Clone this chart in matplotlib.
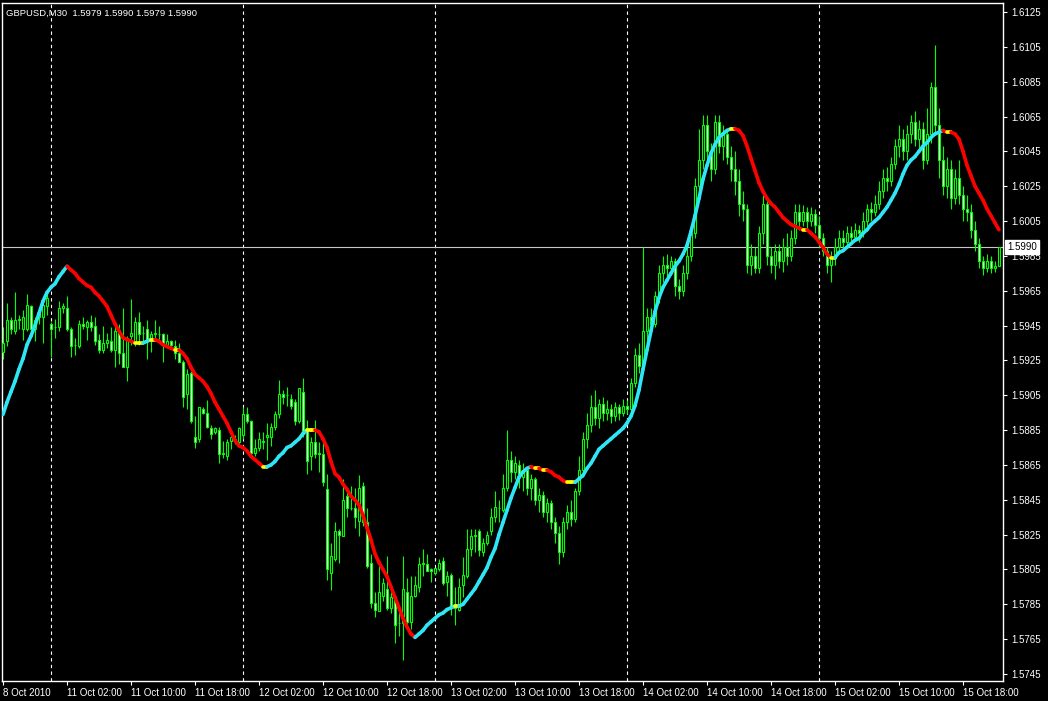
import numpy as np
import matplotlib
matplotlib.use('Agg')
import matplotlib.pyplot as plt
from matplotlib.collections import LineCollection
import matplotlib.transforms as mtransforms

plt.rcParams['font.family'] = ['Liberation Sans', 'DejaVu Sans']

symbol_text = 'GBPUSD,M30  1.5979 1.5990 1.5979 1.5990'
last_price = 1.5990

time_labels = ['8 Oct 2010', '11 Oct 02:00', '11 Oct 10:00', '11 Oct 18:00', '12 Oct 02:00',
               '12 Oct 10:00', '12 Oct 18:00', '13 Oct 02:00', '13 Oct 10:00', '13 Oct 18:00',
               '14 Oct 02:00', '14 Oct 10:00', '14 Oct 18:00', '15 Oct 02:00', '15 Oct 10:00',
               '15 Oct 18:00']
label_bars = [0, 16, 32, 48, 64, 80, 96, 112, 128, 144, 160, 176, 192, 208, 224, 240]
day_start_bars = [12, 60, 108, 156, 204]
price_ticks = [1.5745, 1.5765, 1.5785, 1.5805, 1.5825, 1.5845, 1.5865, 1.5885, 1.5905, 1.5925,
               1.5945, 1.5965, 1.5985, 1.6005, 1.6025, 1.6045, 1.6065, 1.6085, 1.6105, 1.6125]

opens = [
 1.5930,1.5936,1.5948,1.5942,1.5948,1.5943,1.5943,1.5956,1.5943,1.5950,1.5950,1.5956,1.5946,1.5944,1.5944,1.5955,1.5955,1.5943,1.5934,1.5933,
 1.5946,1.5944,1.5947,1.5945,1.5937,1.5931,1.5935,1.5936,1.5931,1.5941,1.5929,1.5921,1.5939,1.5935,1.5947,1.5941,1.5943,1.5936,1.5940,1.5940,
 1.5940,1.5934,1.5936,1.5933,1.5929,1.5924,1.5906,1.5918,1.5881,1.5880,1.5897,1.5895,1.5886,1.5884,1.5885,1.5871,1.5870,1.5879,1.5880,1.5878,
 1.5882,1.5894,1.5890,1.5872,1.5875,1.5879,1.5881,1.5881,1.5887,1.5894,1.5906,1.5905,1.5903,1.5901,1.5890,1.5907,1.5886,1.5870,1.5878,1.5872,
 1.5871,1.5851,1.5803,1.5811,1.5827,1.5824,1.5847,1.5840,1.5840,1.5833,1.5853,1.5832,1.5809,1.5786,1.5781,1.5790,1.5794,1.5783,1.5789,1.5774,
 1.5774,1.5792,1.5775,1.5790,1.5795,1.5808,1.5808,1.5805,1.5803,1.5805,1.5810,1.5798,1.5802,1.5785,1.5782,1.5796,1.5801,1.5817,1.5824,1.5827,
 1.5815,1.5820,1.5827,1.5835,1.5840,1.5839,1.5852,1.5868,1.5861,1.5865,1.5858,1.5862,1.5852,1.5857,1.5845,1.5848,1.5838,1.5843,1.5832,1.5826,
 1.5815,1.5832,1.5838,1.5834,1.5850,1.5862,1.5880,1.5888,1.5898,1.5892,1.5900,1.5895,1.5897,1.5893,1.5898,1.5895,1.5899,1.5897,1.5912,1.5928,
 1.5922,1.5942,1.5950,1.5946,1.5962,1.5975,1.5980,1.5978,1.5982,1.5968,1.5965,1.5975,1.5985,1.5998,1.6025,1.6040,1.6060,1.6045,1.6035,1.6062,
 1.6048,1.6055,1.6042,1.6035,1.6028,1.6015,1.6012,1.5980,1.5985,1.5978,1.5998,1.6015,1.5985,1.5980,1.5988,1.5982,1.5990,1.5985,1.5995,1.6010,
 1.6005,1.6010,1.6005,1.6009,1.6003,1.5995,1.5988,1.5980,1.5984,1.5990,1.5995,1.5993,1.5998,1.5996,1.6000,1.5998,1.6005,1.6012,1.6010,1.6015,
 1.6022,1.6030,1.6028,1.6038,1.6048,1.6052,1.6045,1.6055,1.6062,1.6052,1.6058,1.6040,1.6055,1.6082,1.6060,1.6040,1.6025,1.6035,1.6018,1.6030,
 1.6020,1.6012,1.6010,1.6000,1.5992,1.5982,1.5978,1.5982,1.5978,1.5979]

highs = [
 1.5944,1.5958,1.5950,1.5964,1.5951,1.5954,1.5963,1.5957,1.5950,1.5955,1.5959,1.5963,1.5947,1.5949,1.5959,1.5958,1.5962,1.5944,1.5938,1.5948,
 1.5950,1.5948,1.5951,1.5950,1.5940,1.5945,1.5941,1.5944,1.5947,1.5946,1.5955,1.5939,1.5960,1.5950,1.5953,1.5945,1.5948,1.5942,1.5948,1.5945,
 1.5941,1.5940,1.5937,1.5937,1.5935,1.5925,1.5920,1.5919,1.5893,1.5898,1.5898,1.5902,1.5888,1.5887,1.5887,1.5879,1.5880,1.5883,1.5882,1.5887,
 1.5898,1.5898,1.5891,1.5880,1.5884,1.5884,1.5889,1.5889,1.5896,1.5914,1.5908,1.5910,1.5906,1.5903,1.5909,1.5915,1.5891,1.5881,1.5891,1.5878,
 1.5878,1.5860,1.5820,1.5832,1.5828,1.5857,1.5851,1.5853,1.5852,1.5859,1.5855,1.5840,1.5814,1.5792,1.5809,1.5800,1.5813,1.5792,1.5790,1.5783,
 1.5813,1.5800,1.5801,1.5801,1.5812,1.5817,1.5814,1.5806,1.5806,1.5811,1.5812,1.5804,1.5803,1.5795,1.5800,1.5812,1.5828,1.5828,1.5828,1.5828,
 1.5823,1.5827,1.5840,1.5850,1.5845,1.5860,1.5885,1.5873,1.5870,1.5868,1.5866,1.5864,1.5860,1.5858,1.5852,1.5850,1.5846,1.5845,1.5835,1.5830,
 1.5835,1.5842,1.5845,1.5852,1.5870,1.5884,1.5895,1.5905,1.5908,1.5903,1.5904,1.5902,1.5900,1.5901,1.5900,1.5903,1.5902,1.5915,1.5932,1.5935,
 1.5990,1.5955,1.5955,1.5965,1.5980,1.5985,1.5986,1.5985,1.5984,1.5972,1.5980,1.5990,1.6002,1.6030,1.6058,1.6066,1.6066,1.6050,1.6066,1.6066,
 1.6060,1.6058,1.6048,1.6045,1.6035,1.6022,1.6015,1.5992,1.5990,1.6002,1.6020,1.6018,1.5990,1.5992,1.5992,1.5995,1.5998,1.6000,1.6015,1.6015,
 1.6014,1.6013,1.6013,1.6012,1.6008,1.5998,1.5990,1.5988,1.5995,1.6000,1.6000,1.6002,1.6002,1.6004,1.6003,1.6010,1.6015,1.6016,1.6020,1.6028,
 1.6035,1.6036,1.6042,1.6052,1.6060,1.6058,1.6060,1.6066,1.6068,1.6063,1.6062,1.6070,1.6085,1.6106,1.6070,1.6048,1.6042,1.6040,1.6035,1.6040,
 1.6025,1.6020,1.6015,1.6005,1.5995,1.5985,1.5986,1.5985,1.5982,1.5990]

lows = [
 1.5926,1.5933,1.5940,1.5940,1.5943,1.5937,1.5942,1.5939,1.5936,1.5946,1.5935,1.5951,1.5927,1.5938,1.5942,1.5952,1.5942,1.5927,1.5928,1.5932,
 1.5943,1.5937,1.5942,1.5934,1.5929,1.5929,1.5932,1.5930,1.5921,1.5923,1.5921,1.5913,1.5934,1.5933,1.5934,1.5936,1.5926,1.5930,1.5936,1.5935,
 1.5924,1.5932,1.5932,1.5926,1.5924,1.5898,1.5897,1.5889,1.5875,1.5878,1.5894,1.5886,1.5880,1.5883,1.5866,1.5869,1.5868,1.5874,1.5877,1.5876,
 1.5880,1.5889,1.5869,1.5870,1.5873,1.5874,1.5868,1.5876,1.5885,1.5892,1.5900,1.5899,1.5897,1.5888,1.5889,1.5881,1.5860,1.5862,1.5869,1.5861,
 1.5853,1.5799,1.5793,1.5810,1.5809,1.5824,1.5835,1.5839,1.5829,1.5824,1.5830,1.5806,1.5783,1.5778,1.5781,1.5787,1.5782,1.5780,1.5763,1.5767,
 1.5753,1.5773,1.5771,1.5789,1.5792,1.5801,1.5804,1.5798,1.5802,1.5804,1.5796,1.5790,1.5779,1.5773,1.5781,1.5789,1.5800,1.5813,1.5815,1.5813,
 1.5813,1.5819,1.5825,1.5832,1.5832,1.5838,1.5850,1.5855,1.5857,1.5852,1.5850,1.5848,1.5845,1.5842,1.5838,1.5835,1.5832,1.5828,1.5820,1.5808,
 1.5812,1.5828,1.5830,1.5832,1.5848,1.5858,1.5875,1.5884,1.5888,1.5886,1.5890,1.5891,1.5889,1.5890,1.5891,1.5893,1.5894,1.5896,1.5910,1.5918,
 1.5918,1.5935,1.5940,1.5944,1.5958,1.5970,1.5972,1.5974,1.5962,1.5960,1.5962,1.5972,1.5982,1.5995,1.6020,1.6035,1.6040,1.6028,1.6032,1.6044,
 1.6040,1.6038,1.6028,1.6020,1.6008,1.6005,1.5975,1.5974,1.5975,1.5975,1.5992,1.5980,1.5975,1.5972,1.5978,1.5976,1.5980,1.5982,1.5992,1.6000,
 1.6002,1.6000,1.6002,1.5998,1.5990,1.5985,1.5975,1.5970,1.5980,1.5986,1.5988,1.5990,1.5992,1.5994,1.5993,1.5996,1.6002,1.6005,1.6008,1.6012,
 1.6018,1.6022,1.6025,1.6035,1.6042,1.6040,1.6040,1.6050,1.6048,1.6045,1.6035,1.6038,1.6050,1.6055,1.6030,1.6020,1.6018,1.6012,1.6015,1.6015,
 1.6005,1.6005,1.5995,1.5988,1.5978,1.5974,1.5976,1.5975,1.5976,1.5979]

closes = [
 1.5935,1.5948,1.5943,1.5948,1.5949,1.5950,1.5957,1.5943,1.5948,1.5952,1.5957,1.5961,1.5943,1.5944,1.5955,1.5956,1.5943,1.5933,1.5934,1.5946,
 1.5945,1.5947,1.5944,1.5936,1.5931,1.5935,1.5937,1.5931,1.5942,1.5929,1.5921,1.5938,1.5941,1.5947,1.5940,1.5941,1.5936,1.5940,1.5941,1.5940,
 1.5934,1.5936,1.5934,1.5929,1.5924,1.5904,1.5917,1.5890,1.5878,1.5898,1.5895,1.5887,1.5883,1.5886,1.5871,1.5872,1.5878,1.5881,1.5879,1.5886,
 1.5894,1.5890,1.5872,1.5875,1.5880,1.5878,1.5882,1.5887,1.5894,1.5906,1.5904,1.5905,1.5899,1.5890,1.5909,1.5883,1.5867,1.5878,1.5871,1.5871,
 1.5855,1.5805,1.5813,1.5827,1.5825,1.5845,1.5840,1.5840,1.5835,1.5852,1.5832,1.5807,1.5786,1.5782,1.5792,1.5797,1.5783,1.5789,1.5773,1.5774,
 1.5794,1.5775,1.5790,1.5796,1.5808,1.5809,1.5804,1.5804,1.5806,1.5809,1.5797,1.5801,1.5783,1.5783,1.5795,1.5802,1.5817,1.5824,1.5825,1.5816,
 1.5820,1.5825,1.5835,1.5841,1.5840,1.5852,1.5868,1.5861,1.5866,1.5858,1.5862,1.5852,1.5857,1.5845,1.5848,1.5838,1.5843,1.5832,1.5826,1.5815,
 1.5832,1.5838,1.5834,1.5850,1.5862,1.5880,1.5888,1.5898,1.5892,1.5900,1.5895,1.5897,1.5893,1.5898,1.5895,1.5899,1.5897,1.5912,1.5928,1.5922,
 1.5942,1.5950,1.5946,1.5962,1.5975,1.5980,1.5978,1.5982,1.5968,1.5965,1.5975,1.5985,1.5998,1.6025,1.6040,1.6060,1.6045,1.6035,1.6062,1.6048,
 1.6055,1.6042,1.6035,1.6028,1.6015,1.6012,1.5980,1.5985,1.5978,1.5998,1.6015,1.5985,1.5980,1.5988,1.5982,1.5990,1.5985,1.5995,1.6010,1.6005,
 1.6010,1.6005,1.6009,1.6003,1.5995,1.5988,1.5980,1.5984,1.5990,1.5995,1.5993,1.5998,1.5996,1.6000,1.5998,1.6005,1.6012,1.6010,1.6015,1.6022,
 1.6030,1.6028,1.6038,1.6048,1.6052,1.6045,1.6055,1.6062,1.6052,1.6058,1.6040,1.6055,1.6082,1.6060,1.6040,1.6025,1.6035,1.6018,1.6030,1.6020,
 1.6012,1.6010,1.6000,1.5992,1.5982,1.5978,1.5982,1.5978,1.5979,1.5990]

ma_line = [
 1.5894,1.5901,1.5907,1.5913,1.5920,1.5926,1.5934,1.5939,1.5945,1.5952,1.5959,1.5964,1.5967,1.5969,1.5973,1.5976,1.5979,
 1.5977,1.5975,1.5972,1.5970,1.5968,1.5967,1.5964,1.5962,1.5959,1.5956,1.5951,1.5946,1.5942,1.5938,1.5937,1.5936,
 1.5935,1.5935,1.5935,1.5936,1.5937,1.5937,1.5936,1.5934,1.5933,
 1.5932,1.5931,1.5931,1.5929,1.5926,1.5921,1.5917,1.5915,1.5913,1.5910,1.5906,1.5901,1.5897,1.5893,1.5889,1.5884,
 1.5879,1.5876,1.5875,1.5873,1.5870,
 1.5868,1.5866,1.5864,1.5864,1.5865,1.5867,1.5870,1.5872,1.5875,1.5876,1.5878,1.5880,1.5883,1.5885,1.5885,1.5885,
 1.5884,1.5880,1.5875,1.5867,1.5860,
 1.5858,1.5854,1.5851,1.5847,1.5845,1.5842,1.5836,1.5829,1.5822,1.5814,1.5809,1.5805,1.5801,1.5795,1.5789,1.5783,
 1.5777,1.5772,1.5768,1.5766,1.5768,
 1.5770,1.5773,1.5775,1.5777,1.5779,1.5780,1.5782,1.5783,1.5784,1.5784,1.5785,1.5788,1.5791,1.5794,1.5798,1.5802,
 1.5806,1.5812,1.5817,1.5825,1.5832,
 1.5839,1.5846,1.5852,1.5858,1.5861,1.5863,1.5864,1.5863,1.5863,1.5862,1.5862,1.5861,1.5859,1.5858,1.5856,1.5855,
 1.5855,1.5855,1.5857,1.5859,1.5863,
 1.5866,1.5870,1.5874,1.5876,1.5878,1.5880,1.5882,1.5884,1.5886,1.5889,1.5893,1.5899,1.5908,1.5920,1.5931,1.5942,
 1.5953,1.5961,1.5967,1.5971,1.5975,1.5979,1.5982,1.5986,1.5991,1.5999,1.6008,1.6018,
 1.6029,1.6037,1.6044,1.6049,1.6053,1.6055,1.6057,1.6058,1.6058,1.6057,1.6054,1.6048,1.6041,1.6034,1.6027,1.6022,
 1.6018,1.6015,1.6013,1.6010,1.6007,1.6005,1.6003,1.6002,1.6001,1.6000,1.6000,1.5998,1.5996,1.5993,
 1.5990,1.5986,1.5984,1.5984,1.5987,1.5988,1.5990,1.5992,1.5994,1.5995,1.5998,1.6000,1.6003,1.6005,1.6007,1.6010,
 1.6013,1.6017,1.6021,1.6026,1.6032,1.6037,1.6040,1.6042,1.6045,1.6048,1.6050,1.6053,1.6055,1.6056,
 1.6057,1.6056,1.6056,1.6055,1.6052,1.6045,1.6037,1.6031,1.6025,1.6021,1.6017,1.6012,1.6008,1.6004,1.6000]

W, H = 1048, 701
fig = plt.figure(figsize=(W / 100, H / 100), dpi=100, facecolor='black')
ax = fig.add_axes([2 / W, 20 / H, 1001 / W, 678 / H])
ax.set_facecolor('black')

n = len(closes)
xs = np.arange(n)
o = np.array(opens); h = np.array(highs); l = np.array(lows); c = np.array(closes)

green = '#00ff00'
# wicks
ax.vlines(xs, l, h, color=green, linewidth=0.8, zorder=2)
# bodies: bull candles black, bear candles white
fills = ['black' if cc >= oo else 'white' for oo, cc in zip(o, c)]
ax.bar(xs, np.abs(c - o), bottom=np.minimum(o, c), width=0.5, color=fills,
       edgecolor=green, linewidth=0.8, zorder=3)

# moving average colored by slope
ma = np.array(ma_line)
pts = np.column_stack([xs, ma])
segs = np.stack([pts[:-1], pts[1:]], axis=1)
cols = []
for i in range(1, n):
    d = ma[i] - ma[i - 1]
    if d > 0.00003:
        cols.append('#2ee6f6')
    elif d < -0.00003:
        cols.append('#ff0000')
    else:
        cols.append('#ffff00')
lc = LineCollection(segs, colors=cols, linewidths=2.6, capstyle='round', zorder=4)
ax.add_collection(lc)

# day separators
for b in day_start_bars:
    ax.axvline(b, color='white', linestyle=(0, (3, 3)), linewidth=0.8, zorder=1)

# current price line
ax.axhline(last_price, color='#c8c8c8', linewidth=0.8, zorder=1.5)

ax.set_xlim(-0.25, 250)
ax.set_ylim(1.574098, 1.613017)

ax.yaxis.tick_right()
ax.set_yticks(price_ticks)
ax.set_yticklabels([f'{p:.4f}' for p in price_ticks])
ax.tick_params(axis='y', colors='white', labelcolor='white', length=3, width=0.8,
               pad=3, labelsize=7, direction='out')

ax.set_xticks(label_bars)
ax.set_xticklabels(time_labels, ha='left')
ax.tick_params(axis='x', colors='white', labelcolor='white', length=3, width=0.8,
               pad=2, labelsize=7, direction='out')

for sp in ax.spines.values():
    sp.set_color('white')
    sp.set_linewidth(1.0)

# current price label on the scale
trans = mtransforms.blended_transform_factory(ax.transAxes, ax.transData)
ax.text(1.004, last_price, f'{last_price:.4f}', transform=trans, fontsize=7,
        color='black', va='center', ha='left', zorder=6, clip_on=False,
        bbox=dict(boxstyle='square,pad=0.2', facecolor='white', edgecolor='white'))

fig.text(6 / W, 1 - 13 / H, symbol_text, color='white', fontsize=6.8, va='center', ha='left')

fig.savefig('out.png', dpi=100, facecolor='black')
